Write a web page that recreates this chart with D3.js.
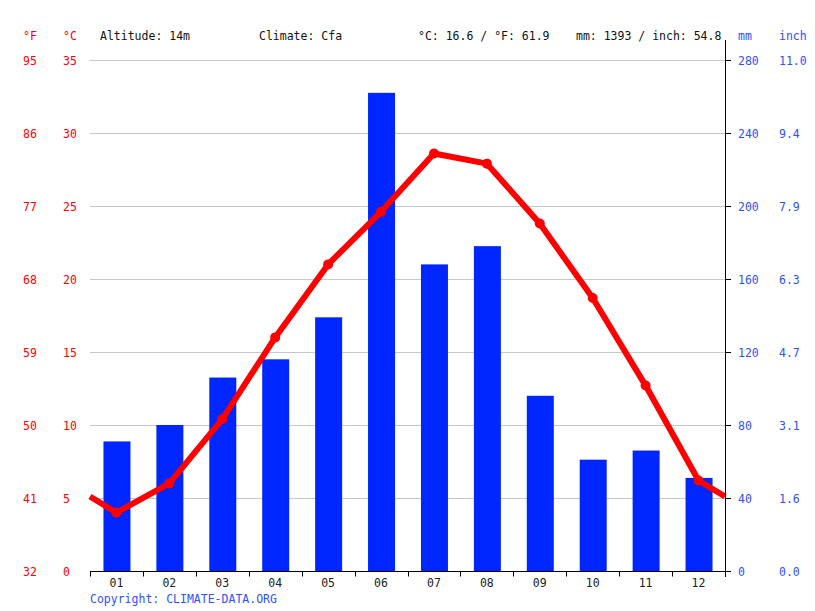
<!DOCTYPE html>
<html><head><meta charset="utf-8">
<script src="https://cdn.jsdelivr.net/npm/d3@7"></script>
<style>body{margin:0;background:#fff}svg{display:block}text{font-family:"DejaVu Sans Mono",monospace;font-size:11.5px}</style>
</head><body>
<script>
const months = ["01","02","03","04","05","06","07","08","09","10","11","12"];
const tempC = [4.0, 6.0, 10.4, 16.0, 21.0, 24.6, 28.6, 27.9, 23.8, 18.7, 12.7, 6.2];
const precipMm = [71, 80, 106, 116, 139, 262, 168, 178, 96, 61, 66, 51];
const tempTicksC = [0,5,10,15,20,25,30,35];
const tempTicksF = ["32","41","50","59","68","77","86","95"];
const mmTicks = [0,40,80,120,160,200,240,280];
const inchTicks = ["0.0","1.6","3.1","4.7","6.3","7.9","9.4","11.0"];
const header = ["Altitude: 14m","Climate: Cfa","°C: 16.6 / °F: 61.9","mm: 1393 / inch: 54.8"];
const headerX = [100,259,418,576];

const W=815,H=611, L=90, R=725, T=60, B=571;
const svg=d3.select("body").append("svg").attr("width",W).attr("height",H);
const x=d3.scaleBand().domain(months).range([L,R]);
const yC=d3.scaleLinear().domain([0,35]).range([B,T]);
const yMm=d3.scaleLinear().domain([0,280]).range([B,T]);
const red="#ff0000", blue="#0026ff", lblue="#2f50ff";

// grid
svg.append("g").selectAll("line").data(tempTicksC.filter(d=>d>0)).join("line")
 .attr("x1",L).attr("x2",R).attr("y1",d=>yC(d)).attr("y2",d=>yC(d))
 .attr("stroke","#c8c8c8").attr("stroke-width",1).attr("shape-rendering","crispEdges");

// bars
const bw=27;
svg.append("g").selectAll("rect").data(precipMm).join("rect")
 .attr("x",(d,i)=>x(months[i])+x.bandwidth()/2-bw/2+0.5).attr("width",bw)
 .attr("y",d=>yMm(d)).attr("height",d=>B-yMm(d)).attr("fill",blue);

// temperature line with edge points
const edge=(tempC[0]+tempC[11])/2;
const pts=[[L,edge]].concat(tempC.map((t,i)=>[x(months[i])+x.bandwidth()/2,t])).concat([[R,edge]]);
svg.append("path").datum(pts).attr("fill","none").attr("stroke",red).attr("stroke-width",6)
 .attr("stroke-linejoin","round")
 .attr("d",d3.line().x(d=>d[0]).y(d=>yC(d[1])));
svg.append("g").selectAll("circle").data(tempC).join("circle")
 .attr("cx",(d,i)=>x(months[i])+x.bandwidth()/2).attr("cy",d=>yC(d)).attr("r",5).attr("fill",red);

// bottom axis
const ax=svg.append("g").attr("transform",`translate(0,${B+0.5})`);
ax.append("line").attr("x1",L).attr("x2",R+1).attr("stroke","#000");
const bounds=d3.range(13).map(i=>L+i*x.bandwidth());
ax.selectAll("line.t").data(bounds).join("line").attr("class","t")
 .attr("x1",d=>Math.round(d)+0.5).attr("x2",d=>Math.round(d)+0.5).attr("y1",0).attr("y2",5).attr("stroke","#000");
ax.selectAll("text").data(months).join("text")
 .attr("x",d=>x(d)+x.bandwidth()/2).attr("y",15).attr("text-anchor","middle").attr("fill","#222").text(d=>d);

// right axis
svg.append("line").attr("x1",R+0.5).attr("x2",R+0.5).attr("y1",40).attr("y2",B+6).attr("stroke","#000");
svg.append("g").selectAll("line").data(mmTicks).join("line")
 .attr("x1",R).attr("x2",R+6).attr("y1",d=>Math.round(yMm(d))+0.5).attr("y2",d=>Math.round(yMm(d))+0.5).attr("stroke","#000");
svg.append("g").selectAll("text").data(mmTicks).join("text")
 .attr("x",738).attr("y",d=>yMm(d)+5).attr("fill",lblue).text(d=>d);
svg.append("g").selectAll("text").data(inchTicks).join("text")
 .attr("x",779).attr("y",(d,i)=>yMm(mmTicks[i])+5).attr("fill",lblue).text(d=>d);

// left labels
svg.append("g").selectAll("text").data(tempTicksF).join("text")
 .attr("x",23).attr("y",(d,i)=>yC(tempTicksC[i])+5).attr("fill",red).text(d=>d);
svg.append("g").selectAll("text").data(tempTicksC).join("text")
 .attr("x",63).attr("y",d=>yC(d)+5).attr("fill",red).text(d=>d);

// headers
svg.append("text").attr("x",23).attr("y",40).attr("fill",red).text("°F");
svg.append("text").attr("x",63).attr("y",40).attr("fill",red).text("°C");
svg.append("text").attr("x",738).attr("y",40).attr("fill",lblue).text("mm");
svg.append("text").attr("x",779).attr("y",40).attr("fill",lblue).text("inch");
svg.append("g").selectAll("text").data(header).join("text")
 .attr("x",(d,i)=>headerX[i]).attr("y",40).attr("fill","#111").text(d=>d);

svg.append("text").attr("x",90).attr("y",603).attr("fill",lblue).text("Copyright: CLIMATE-DATA.ORG");
</script>
</body></html>
